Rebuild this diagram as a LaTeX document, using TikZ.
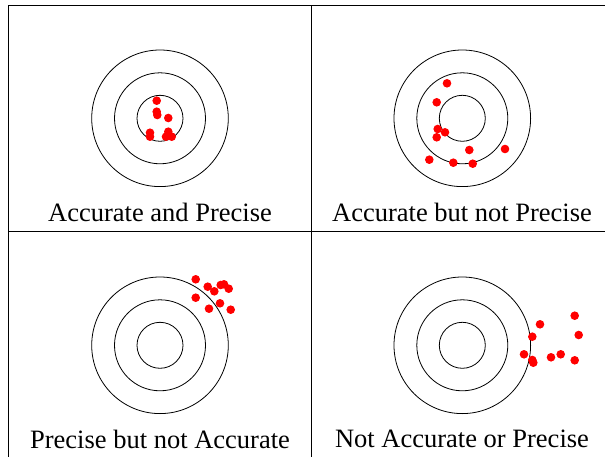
\documentclass[tikz,border=0pt]{standalone}
\usepackage{fontspec}
\setmainfont{Liberation Serif}
\usetikzlibrary{positioning}
\tikzset{
  ring/.style={draw, line width=0.8pt},
  shot/.style={fill=red, draw=none},
  caption/.style={anchor=base, inner sep=0pt, font=\fontsize{26.5}{30}\selectfont},
  rule/.style={draw, line width=1pt}
}

\begin{document}
\begin{tikzpicture}[x=1pt, y=-1pt]
  \useasboundingbox (0,0) rectangle (605,457);

  % === table lines ===
  \coordinate (tl) at (8.3,5.7);
  \coordinate (tr) at (606,5.7);
  \coordinate (bl) at (8.3,458);
  \coordinate (mt) at (311,5.7);
  \coordinate (mb) at (311,458);
  \coordinate (ml) at (8.3,232);
  \coordinate (mr) at (606,232);
  \draw[rule] (bl) -- (tl) -- (tr);
  \draw[rule] (mt) -- (mb);
  \draw[rule] (ml) -- (mr);

  % === targets ===
  \foreach \cx/\cy in {160/118.3, 462.3/118.3, 160/345.3, 462.3/345.3}
    \foreach \r in {23, 45.5, 68.3}
      \draw[ring] (\cx,\cy) circle[radius=\r];

  % === shots ===
  \foreach \sx/\sy in {156.7/100.7, 156.7/111.7, 157.3/115, 168.3/118, 150/132.7,
      150/136.7, 168.3/131.7, 171.7/136.7, 166/136.7,
      447/83.3, 436.7/102.3, 437.7/129, 445/132.3, 436.7/137.3, 469.3/150,
      505/149, 429.3/159.7, 453.3/162.7, 472.7/163.7,
      195.7/279.3, 207.7/286.7, 214.3/291.3, 220.7/285, 224/284.3,
      228.7/288.7, 195.7/297.7, 220/303.3, 209/308.7, 230.7/309.7,
      540/324.3, 574.7/315.7, 532.3/336.7, 578.7/335, 524/354.3,
      532.3/360, 533.3/362.7, 551/357.3, 560.7/354.3, 574.7/360.3}
    \fill[shot] (\sx,\sy) circle[radius=4.3];

  % === captions ===
  \node[caption] (capAP) at (160,221.7) {Accurate and Precise};
  \node[caption] (capAnP) at (462,221.7) {Accurate but not Precise};
  \node[caption] (capPnA) at (160,448.3) {Precise but not Accurate};
  \node[caption] (capNAP) at (462,447.7) {Not Accurate or Precise};
\end{tikzpicture}
\end{document}
